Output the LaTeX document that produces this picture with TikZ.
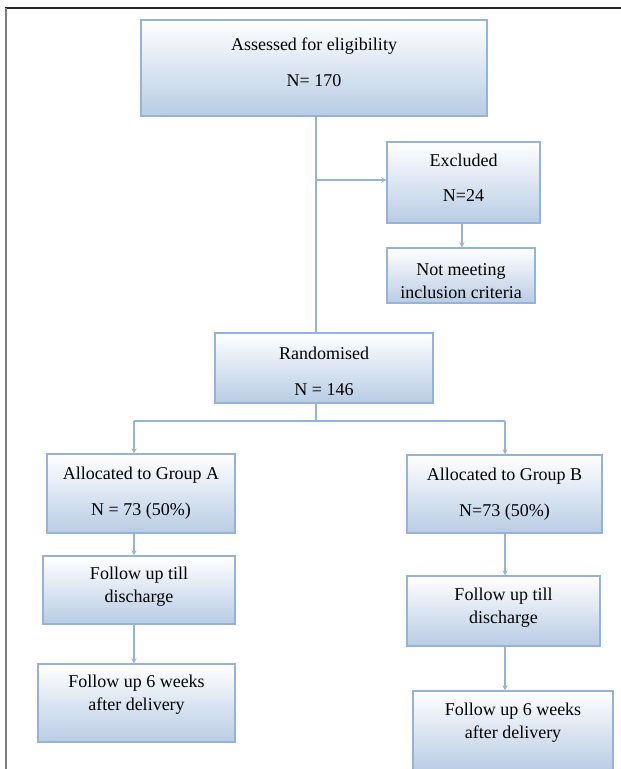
\documentclass[tikz,border=0pt]{standalone}
\usepackage{fontspec}
\setmainfont{Liberation Serif}
\usetikzlibrary{arrows.meta}
\definecolor{boxline}{RGB}{149,179,215}
\definecolor{boxfill}{RGB}{184,204,228}
\definecolor{frameline}{RGB}{125,125,125}
\newcommand{\toppad}[1]{\rule{0pt}{#1}}
\begin{document}
\begin{tikzpicture}[x=1pt,y=-1pt]
        \tikzstyle{box}=[rectangle,draw=boxline,line width=1.4pt,top color=white,bottom color=boxfill,
                         inner sep=0pt,align=center,font=\fontsize{18}{23}\selectfont]
        \tikzstyle{lift}=[text depth=#1]
        \tikzstyle{edge}=[draw=boxline,line width=1.4pt]
        \tikzstyle{arr}=[edge,-{Stealth[length=5pt,width=5pt]}]
        \clip (0,0) rectangle (621,769);
        \useasboundingbox (0,0) rectangle (621,769);
        % frame
        \draw[black!85,line width=1.6pt] (5,8) -- (621,8);
        \draw[frameline,line width=2pt] (5.5,8) -- (5.5,769);
        % boxes
        \node [box,lift=12pt,minimum width=346pt,minimum height=96pt] (assess) at (314,68) {Assessed for eligibility\\[13pt]N= 170};
        \node [box,lift=10pt,minimum width=153pt,minimum height=81pt] (excl) at (463.5,182.5) {Excluded\\[12pt]N=24};
        \node [box,minimum width=148pt,minimum height=55pt] (notmeet) at (461,275.5) {\toppad{23pt}Not meeting\\inclusion criteria};
        \node [box,minimum width=218pt,minimum height=70pt] (rand) at (324,368) {\toppad{20pt}Randomised\\[13pt]N = 146};
        \node [box,minimum width=188pt,minimum height=79pt] (grpA) at (141,493.5) {Allocated to Group A\\[13pt]N = 73 (50\%)};
        \node [box,minimum width=195pt,minimum height=78pt] (grpB) at (504.5,494) {Allocated to Group B\\[13pt]N=73 (50\%)};
        \node [box,lift=11pt,minimum width=192pt,minimum height=68pt] (fupA) at (139,590) {Follow up till\\discharge};
        \node [box,lift=10pt,minimum width=193pt,minimum height=70pt] (fupB) at (503.5,611) {Follow up till\\discharge};
        \node [box,lift=20pt,minimum width=197pt,minimum height=78pt] (wkA) at (136.5,703) {Follow up 6 weeks\\after delivery};
        \node [box,lift=21pt,minimum width=200pt,minimum height=80pt] (wkB) at (513,731) {Follow up 6 weeks\\after delivery};
        % junctions
        \coordinate (j1) at (316,180);
        \coordinate (j2) at (316,421);
        \coordinate (ja) at (134,421);
        \coordinate (jb) at (505,421);
        % connectors
        \path[edge] (assess.south -| j1) -- (rand.north -| j1);
        \path[arr] (j1) -- (j1 -| excl.west);
        \path[arr] (excl.south -| 462,0) -- (notmeet.north -| 462,0);
        \path[edge] (rand.south -| j2) -- (j2);
        \path[edge] (ja) -- (jb);
        \path[arr] (ja) -- (ja |- grpA.north);
        \path[arr] (jb) -- (jb |- grpB.north);
        \path[arr] (grpA.south -| ja) -- (fupA.north -| ja);
        \path[arr] (fupA.south -| ja) -- (wkA.north -| ja);
        \path[arr] (grpB.south -| jb) -- (fupB.north -| jb);
        \path[arr] (fupB.south -| jb) -- (wkB.north -| jb);
\end{tikzpicture}
\end{document}
